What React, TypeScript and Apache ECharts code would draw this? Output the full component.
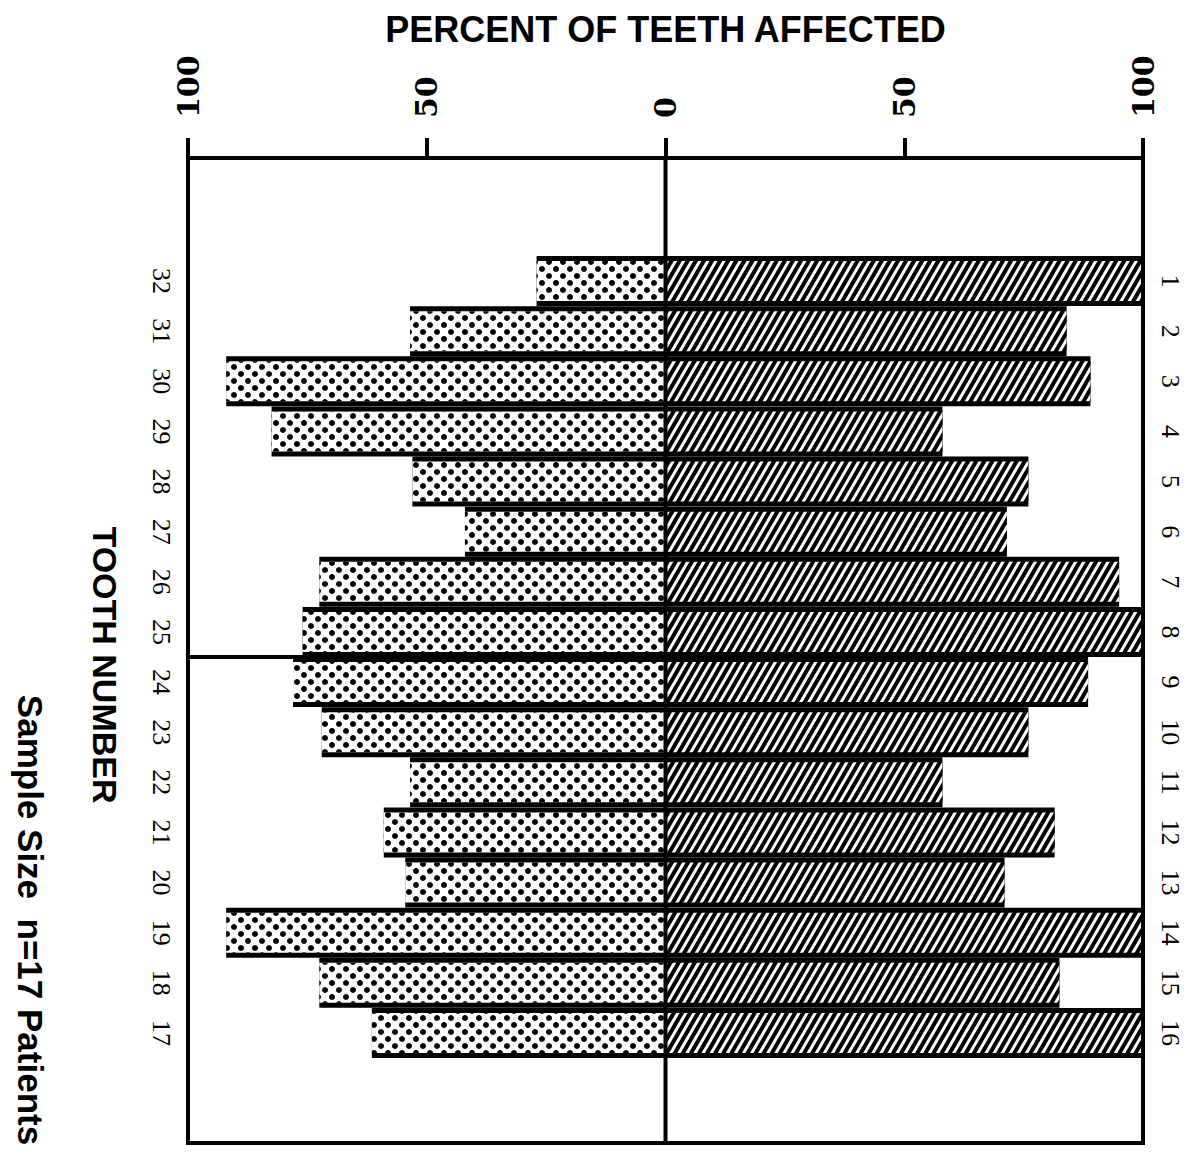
import React, { useEffect, useRef } from 'react';
import * as echarts from 'echarts';

// Tooth numbers (upper jaw on the right, lower jaw on the left)
const upperTeeth = ['1', '2', '3', '4', '5', '6', '7', '8', '9', '10', '11', '12', '13', '14', '15', '16'];
const lowerTeeth = ['32', '31', '30', '29', '28', '27', '26', '25', '24', '23', '22', '21', '20', '19', '18', '17'];

// Percent of teeth affected
const upperPercent = [100, 84, 89, 58, 76, 71.5, 95, 100, 88.5, 76, 58, 81.5, 71, 100, 82.5, 100];
const lowerPercent = [27, 53.5, 92, 82.5, 53, 42, 72.5, 76, 78, 72, 53.5, 59, 54.5, 92, 72.5, 61.5];

const xMin = -100;
const xMax = 100;
const xInterval = 50;

const titleText = 'PERCENT OF TEETH AFFECTED';
const axisNameText = 'TOOTH NUMBER';
const sampleText = 'Sample Size  n=17 Patients';

export default function App() {
  const ref = useRef<HTMLDivElement>(null);

  useEffect(() => {
    if (!ref.current) return;
    const chart = echarts.init(ref.current, undefined, { renderer: 'svg' });
    const lowerNeg = lowerPercent.map((v) => -v);

    const yAxisCommon = {
      type: 'category',
      inverse: true,
      axisLine: { show: false },
      axisTick: { show: false },
      splitLine: { show: false },
      axisLabel: {
        rotate: -90,
        color: '#000',
        fontFamily: '"Liberation Serif", serif',
        fontSize: 26,
        margin: 14,
      },
    };

    chart.setOption({
      animation: false,
      backgroundColor: '#fff',
      grid: { left: 188, right: 53, top: 256, bottom: 96 },
      xAxis: {
        type: 'value',
        min: xMin,
        max: xMax,
        interval: xInterval,
        position: 'top',
        offset: 98,
        axisLine: { show: true, lineStyle: { color: '#000', width: 4 } },
        axisTick: { show: true, length: 20, lineStyle: { color: '#000', width: 4 } },
        splitLine: { show: false },
        axisLabel: {
          rotate: -90,
          margin: 40,
          color: '#000',
          fontFamily: '"DejaVu Serif", serif',
          fontWeight: 'bold',
          fontSize: 30,
          formatter: (v: number) => String(Math.abs(v)),
        },
      },
      yAxis: [
        { ...yAxisCommon, position: 'left', data: lowerTeeth },
        { ...yAxisCommon, position: 'right', data: upperTeeth },
      ],
      series: [
        {
          name: 'upperEdge',
          type: 'bar',
          yAxisIndex: 1,
          stack: 'edge',
          barWidth: 50,
          silent: true,
          itemStyle: { color: '#000' },
          data: upperPercent,
        },
        {
          name: 'lowerEdge',
          type: 'bar',
          yAxisIndex: 1,
          stack: 'edge',
          barWidth: 50,
          silent: true,
          itemStyle: { color: '#000' },
          data: lowerNeg,
        },
        {
          name: 'Upper teeth',
          type: 'bar',
          yAxisIndex: 0,
          stack: 'fill',
          barWidth: 40,
          itemStyle: {
            color: '#000',
            decal: {
              symbol: 'rect',
              symbolSize: 1,
              color: '#fff',
              dashArrayX: [1, 0],
              dashArrayY: [3, 4],
              rotation: -Math.PI / 3,
            },
          },
          data: upperPercent,
        },
        {
          name: 'Lower teeth',
          type: 'bar',
          yAxisIndex: 0,
          stack: 'fill',
          barWidth: 40,
          itemStyle: {
            color: '#fff',
            decal: {
              symbol: 'circle',
              symbolSize: 1,
              color: '#000',
              dashArrayX: [[6, 8], [0, 7, 6, 1]],
              dashArrayY: [6, 1],
              rotation: 0,
            },
          },
          data: lowerNeg,
        },
      ],
    });

    const xl = chart.convertToPixel({ xAxisIndex: 0 }, xMin) as number;
    const x0 = chart.convertToPixel({ xAxisIndex: 0 }, 0) as number;
    const xr = chart.convertToPixel({ xAxisIndex: 0 }, xMax) as number;
    const y7 = chart.convertToPixel({ yAxisIndex: 0 }, 7) as number;
    const y8 = chart.convertToPixel({ yAxisIndex: 0 }, 8) as number;
    const yMid = (y7 + y8) / 2;
    const top = 158;
    const bottom = 1143;
    const lw = 4;
    const line = (x1: number, y1: number, x2: number, y2: number, z: number) => ({
      type: 'line',
      z,
      silent: true,
      shape: { x1, y1, x2, y2 },
      style: { stroke: '#000', lineWidth: lw },
    });

    chart.setOption({
      graphic: [
        line(xl, yMid, x0, yMid, -1),
        line(xl, top, xl, bottom + lw / 2, 10),
        line(xr, top, xr, bottom + lw / 2, 10),
        line(x0, top, x0, bottom, 10),
        line(xl, bottom, xr, bottom, 10),
        {
          type: 'text',
          x: x0,
          y: 29,
          style: {
            text: titleText,
            fill: '#000',
            font: 'bold 36px "Liberation Sans", Arial, sans-serif',
            textAlign: 'center',
            textVerticalAlign: 'middle',
          },
        },
        {
          type: 'text',
          x: 105,
          y: 665,
          rotation: -Math.PI / 2,
          style: {
            text: axisNameText,
            fill: '#000',
            font: 'bold 34px "Liberation Sans", Arial, sans-serif',
            textAlign: 'center',
            textVerticalAlign: 'middle',
          },
        },
        {
          type: 'text',
          x: 30,
          y: 920,
          rotation: -Math.PI / 2,
          style: {
            text: sampleText,
            fill: '#000',
            font: 'bold 35px "Liberation Sans", Arial, sans-serif',
            textAlign: 'center',
            textVerticalAlign: 'middle',
          },
        },
      ],
    });

    return () => chart.dispose();
  }, []);

  return (
    <div
      ref={ref}
      style={{ position: 'fixed', left: 0, top: 0, width: 1196, height: 1154, background: '#fff' }}
    />
  );
}
